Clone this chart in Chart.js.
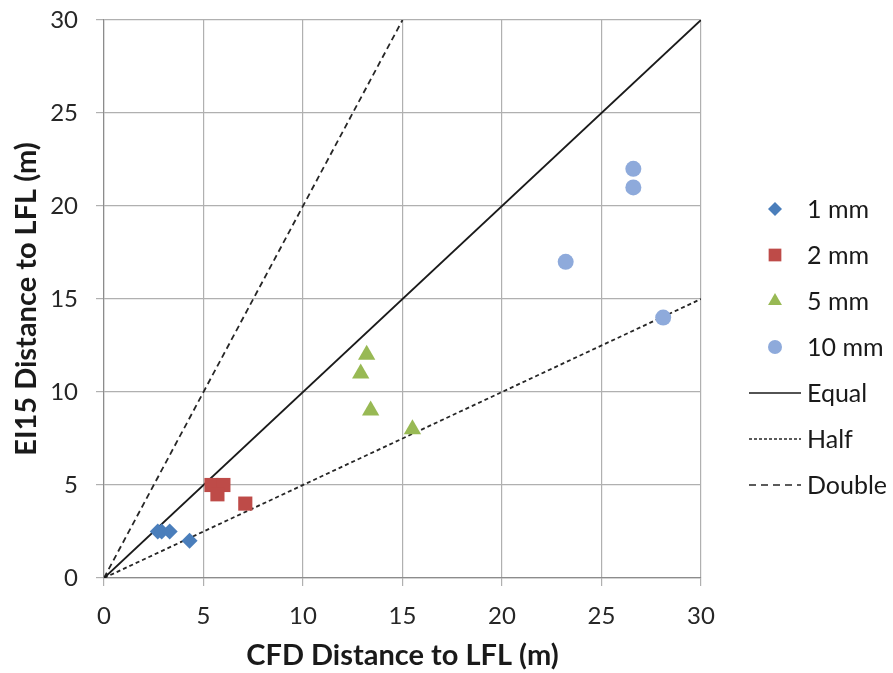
<!DOCTYPE html>
<html>
<head>
<meta charset="utf-8">
<script src="https://cdn.jsdelivr.net/npm/chart.js@4.4.1/dist/chart.umd.min.js"></script>
<style>
  html, body { margin: 0; padding: 0; background: #fff; }
  #wrap { width: 893px; height: 673px; }
</style>
</head>
<body>
<div id="wrap"><canvas id="scatterChart"></canvas></div>
<script>
// axis ticks
const xTicks = [0, 5, 10, 15, 20, 25, 30];
const yTicks = [0, 5, 10, 15, 20, 25, 30];

// CFD (x) vs EI15 (y) distance to LFL, by hole size
const cfd1mm = [2.7, 2.9, 3.3, 4.3];
const ei1mm = [2.5, 2.5, 2.5, 2.0];
const cfd2mm = [5.4, 6.0, 5.7, 7.1];
const ei2mm = [5.0, 5.0, 4.5, 4.0];
const cfd5mm = [12.9, 13.2, 13.4, 15.5];
const ei5mm = [11.0, 12.0, 9.0, 8.0];
const cfd10mm = [26.6, 26.6, 23.2, 28.1];
const ei10mm = [22.0, 21.0, 17.0, 14.0];

// reference lines (end points)
const equalX = [0, 30];
const equalY = [0, 30];
const halfX = [0, 30];
const halfY = [0, 15];
const doubleX = [0, 15];
const doubleY = [0, 30];

const FONT = "Lato, 'Open Sans', sans-serif";
const pts = (xs, ys) => xs.map((x, i) => ({ x: x, y: ys[i] }));

// legend on the right, drawn on the canvas
const sideLegend = {
  id: "sideLegend",
  afterDraw(chart) {
    const { ctx, chartArea } = chart;
    const rowH = 46;
    const mid = (chartArea.top + chartArea.bottom) / 2 + 48;
    const n = chart.data.datasets.length;
    const x0 = chartArea.right + 48;
    chart.data.datasets.forEach((ds, i) => {
      const y = mid + (i - (n - 1) / 2) * rowH;
      ctx.save();
      if (ds.showLine) {
        ctx.strokeStyle = ds.borderColor;
        ctx.lineWidth = 1.6;
        ctx.setLineDash(ds.legendDash || []);
        ctx.beginPath();
        ctx.moveTo(x0, y);
        ctx.lineTo(x0 + 52, y);
        ctx.stroke();
      } else {
        ctx.fillStyle = ds.backgroundColor;
        Chart.helpers.drawPoint(ctx, { pointStyle: ds.pointStyle, radius: ds.legendRadius, borderWidth: 0, rotation: 0 }, x0 + 26, y);
      }
      ctx.setLineDash([]);
      ctx.fillStyle = "#1a1a1a";
      ctx.font = "25px " + FONT;
      ctx.textBaseline = "middle";
      ctx.textAlign = "left";
      ctx.fillText(ds.label, x0 + 58, y + 1);
      ctx.restore();
    });
  },
};

const ctx = document.getElementById("scatterChart").getContext("2d");

new Chart(ctx, {
  type: "scatter",
  data: {
    datasets: [
      {
        label: "1 mm",
        data: pts(cfd1mm, ei1mm),
        pointStyle: "rectRot",
        pointRadius: 8,
        backgroundColor: "#4a7ebb",
        borderWidth: 0,
        legendRadius: 7,
      },
      {
        label: "2 mm",
        data: pts(cfd2mm, ei2mm),
        pointStyle: "rect",
        pointRadius: 10,
        backgroundColor: "#be4b48",
        borderWidth: 0,
        legendRadius: 9,
      },
      {
        label: "5 mm",
        data: pts(cfd5mm, ei5mm),
        pointStyle: "triangle",
        pointRadius: 10,
        backgroundColor: "#98b954",
        borderWidth: 0,
        legendRadius: 8,
      },
      {
        label: "10 mm",
        data: pts(cfd10mm, ei10mm),
        pointStyle: "circle",
        pointRadius: 8,
        backgroundColor: "#8eaadb",
        borderWidth: 0,
        legendRadius: 7,
      },
      {
        label: "Equal",
        data: pts(equalX, equalY),
        showLine: true,
        borderColor: "#1a1a1a",
        borderWidth: 1.9,
        pointRadius: 0,
      },
      {
        label: "Half",
        data: pts(halfX, halfY),
        showLine: true,
        borderColor: "#262626",
        borderWidth: 1.8,
        borderDash: [4, 3],
        legendDash: [3, 2],
        pointRadius: 0,
      },
      {
        label: "Double",
        data: pts(doubleX, doubleY),
        showLine: true,
        borderColor: "#262626",
        borderWidth: 1.8,
        borderDash: [6, 4],
        legendDash: [7, 5],
        pointRadius: 0,
      },
    ],
  },
  options: {
    responsive: true,
    maintainAspectRatio: false,
    animation: false,
    layout: { padding: { top: 20, right: 192, bottom: 0, left: 0 } },
    scales: {
      x: {
        type: "linear",
        min: 0,
        max: 30,
        afterBuildTicks: (scale) => { scale.ticks = xTicks.map((v) => ({ value: v })); },
        afterFit: (scale) => {
          scale.height = 95;
          scale.paddingLeft = 0;
          scale.paddingRight = 0;
        },
        grid: { color: "#b0b0b0", lineWidth: 1.2, tickLength: 8 },
        border: { color: "#8c8c8c", width: 1.2 },
        ticks: { color: "#262626", padding: 16, font: { family: FONT, size: 24 } },
        title: {
          display: true,
          text: "CFD Distance to LFL (m)",
          color: "#1a1a1a",
          padding: { top: 0, bottom: 0 },
          font: { family: FONT, size: 29, weight: "bold" },
        },
      },
      y: {
        type: "linear",
        min: 0,
        max: 30,
        afterBuildTicks: (scale) => { scale.ticks = yTicks.map((v) => ({ value: v })); },
        afterFit: (scale) => {
          scale.width = 104;
          scale.paddingTop = 0;
          scale.paddingBottom = 0;
        },
        grid: { color: "#b0b0b0", lineWidth: 1.2, tickLength: 8 },
        border: { color: "#8c8c8c", width: 1.2 },
        ticks: { color: "#262626", padding: 18, font: { family: FONT, size: 24 } },
        title: {
          display: true,
          text: "EI15 Distance to LFL (m)",
          color: "#1a1a1a",
          padding: { top: 9, bottom: 0 },
          font: { family: FONT, size: 29, weight: "bold" },
        },
      },
    },
    plugins: {
      legend: { display: false },
      tooltip: { enabled: false },
    },
  },
  plugins: [sideLegend],
});
</script>
</body>
</html>
